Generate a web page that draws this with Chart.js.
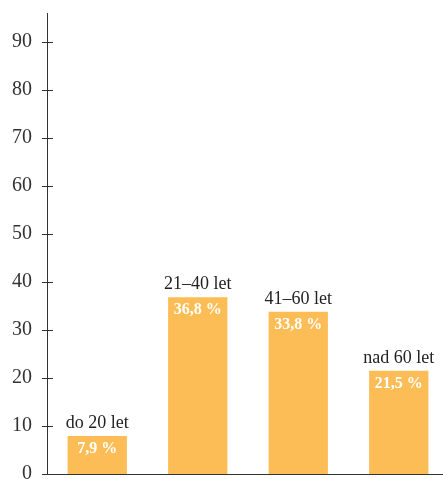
<!DOCTYPE html>
<html>
<head>
<meta charset="utf-8">
<script src="https://cdn.jsdelivr.net/npm/chart.js@4.4.1/dist/chart.umd.min.js"></script>
<style>
  html, body { margin: 0; padding: 0; background: #fff; overflow: hidden; }
  #wrap { width: 450px; height: 479px; }
</style>
</head>
<body>
<div id="wrap"><canvas id="c" width="450" height="479"></canvas></div>
<script>
// Age groups and their share of respondents (%)
const categories = ['do 20 let', '21–40 let', '41–60 let', 'nad 60 let'];
const shares = [7.9, 36.8, 33.8, 21.5];
const valueLabels = ['7,9 %', '36,8 %', '33,8 %', '21,5 %'];
const yTicks = [0, 10, 20, 30, 40, 50, 60, 70, 80, 90];

const SERIF = '"Liberation Serif", "DejaVu Serif", serif';
const AXIS = '#333333';
const BAR = '#FDBD56';

// Tick marks that cross the vertical axis line
const crossTicks = {
  id: 'crossTicks',
  afterDraw(chart) {
    const y = chart.scales.y;
    const ctx = chart.ctx;
    ctx.save();
    ctx.strokeStyle = AXIS;
    ctx.lineWidth = 1;
    yTicks.forEach(v => {
      const py = Math.round(y.getPixelForValue(v)) + 0.5;
      ctx.beginPath();
      ctx.moveTo(y.right - 5, py);
      ctx.lineTo(y.right + 6, py);
      ctx.stroke();
    });
    ctx.restore();
  }
};

// Category name above each bar, percentage inside its top
const barLabels = {
  id: 'barLabels',
  afterDatasetsDraw(chart) {
    const ctx = chart.ctx;
    const meta = chart.getDatasetMeta(0);
    ctx.save();
    ctx.textAlign = 'center';
    ctx.textBaseline = 'alphabetic';
    meta.data.forEach((bar, i) => {
      ctx.fillStyle = '#222222';
      ctx.font = '18px ' + SERIF;
      ctx.fillText(categories[i], bar.x, bar.y - 8);
      ctx.fillStyle = '#ffffff';
      ctx.font = 'bold 16px ' + SERIF;
      ctx.fillText(valueLabels[i], bar.x, bar.y + 17);
    });
    ctx.restore();
  }
};

new Chart(document.getElementById('c'), {
  type: 'bar',
  data: {
    labels: categories,
    datasets: [{
      data: shares,
      backgroundColor: BAR,
      borderWidth: 0,
      barPercentage: 0.59,
      categoryPercentage: 1.0
    }]
  },
  options: {
    responsive: false,
    animation: false,
    events: [],
    layout: { padding: { top: 13, bottom: 5, left: 0, right: 1 } },
    plugins: { legend: { display: false }, tooltip: { enabled: false } },
    scales: {
      x: {
        display: true,
        grid: { display: false, drawTicks: false },
        border: { display: true, color: AXIS, width: 1 },
        ticks: { display: false }
      },
      y: {
        min: 0,
        max: 96,
        afterBuildTicks(scale) {
          scale.ticks = yTicks.map(v => ({ value: v }));
        },
        afterFit(scale) {
          scale.width = 47;
          scale.paddingTop = 0;
          scale.paddingBottom = 0;
        },
        grid: { display: false, drawTicks: false },
        border: { display: true, color: AXIS, width: 1 },
        ticks: {
          padding: 15,
          color: '#333333',
          font: { family: SERIF, size: 20 }
        }
      }
    }
  },
  plugins: [crossTicks, barLabels]
});
</script>
</body>
</html>
